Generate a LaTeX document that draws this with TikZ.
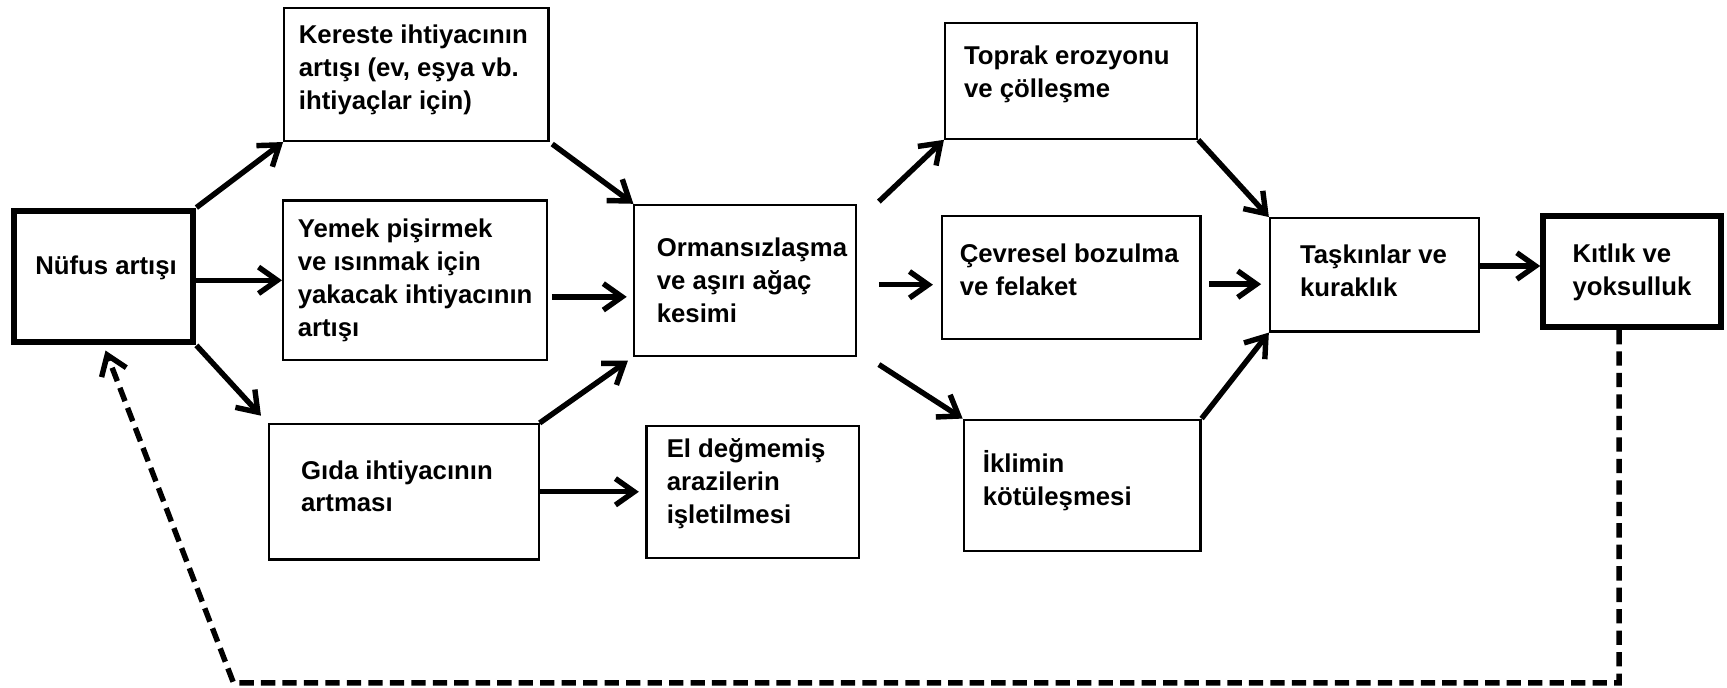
\documentclass[tikz,border=0pt]{standalone}
\usepackage{fontspec}
\setmainfont{Liberation Sans}
\usetikzlibrary{arrows.meta,calc}

\tikzset{
  box/.style={draw, line width=1.1pt, inner sep=0pt},
  keybox/.style={draw, line width=3.2pt, inner sep=0pt},
  lbl/.style={anchor=west, align=left, inner sep=0pt, font=\bfseries\fontsize{13.3}{17}\selectfont},
  arr/.style={-{Straight Barb[length=3.4mm,width=4.8mm]}, line width=2.8pt},
  fb/.style={arr, dash pattern=on 2.6mm off 1.3mm},
}

\begin{document}
\begin{tikzpicture}[x=0.2mm, y=-0.2mm]
      \useasboundingbox (0,0) rectangle (1568,624);

      \node[keybox, minimum width=32.6mm, minimum height=23.9mm] (nufus) at (94,251) {};
      \node[box, minimum width=48mm, minimum height=24.2mm] (kereste) at (378,67.5) {};
      \node[box, minimum width=48mm, minimum height=29mm] (yemek) at (377,254.5) {};
      \node[box, minimum width=49mm, minimum height=24.6mm] (gida) at (366.5,446.5) {};
      \node[box, minimum width=40.2mm, minimum height=27.4mm] (orman) at (676.5,254.5) {};
      \node[box, minimum width=38.6mm, minimum height=24mm] (el) at (683.5,447) {};
      \node[box, minimum width=45.8mm, minimum height=21mm] (toprak) at (972.5,73.5) {};
      \node[box, minimum width=47mm, minimum height=22.4mm] (cevre) at (972.5,252) {};
      \node[box, minimum width=43mm, minimum height=23.8mm] (iklim) at (982.5,440.5) {};
      \node[box, minimum width=38mm, minimum height=20.6mm] (taskin) at (1248,249.5) {};
      \node[keybox, minimum width=32.3mm, minimum height=20.1mm] (kitlik) at (1482,246.5) {};

      \node[lbl] (nufusT) at ($(nufus.west)+(22,-8)$) {Nüfus artışı};
      \node[lbl] (keresteT) at ($(kereste.west)+(14,-4)$) {Kereste ihtiyacının\\artışı (ev, eşya vb.\\ihtiyaçlar için)};
      \node[lbl] (yemekT) at ($(yemek.west)+(14,0)$) {Yemek pişirmek\\ve ısınmak için\\yakacak ihtiyacının\\artışı};
      \node[lbl] (gidaT) at ($(gida.west)+(30,-5)$) {Gıda ihtiyacının\\artması};
      \node[lbl] (ormanT) at ($(orman.west)+(21,0)$) {Ormansızlaşma\\ve aşırı ağaç\\kesimi};
      \node[lbl] (elT) at ($(el.west)+(19,-8)$) {El değmemiş\\arazilerin\\işletilmesi};
      \node[lbl] (toprakT) at ($(toprak.west)+(18,-6)$) {Toprak erozyonu\\ve çölleşme};
      \node[lbl] (cevreT) at ($(cevre.west)+(17,-7)$) {Çevresel bozulma\\ve felaket};
      \node[lbl] (iklimT) at ($(iklim.west)+(18,-4)$) {İklimin\\kötüleşmesi};
      \node[lbl] (taskinT) at ($(taskin.west)+(28,-4)$) {Taşkınlar ve\\kuraklık};
      \node[lbl] (kitlikT) at ($(kitlik.west)+(29,1)$) {Kıtlık ve\\yoksulluk};

      \draw[arr] (nufus.north east) -- (kereste.south west);
      \draw[arr] (nufus.east |- yemek.west) -- (yemek.west);
      \draw[arr, shorten >=1.8mm] (nufus.south east) -- (gida.north west);
      \draw[arr, shorten <=0.6mm] (kereste.south east) -- (orman.north west);
      \draw[arr, shorten >=1.2mm] ([shift={(3,15)}]yemek.east) coordinate (y1) -- (y1 -| orman.west);
      \draw[arr, shorten >=1.2mm] (gida.north east) -- (orman.south west);
      \draw[arr, shorten >=1.2mm] (gida.east) -- (gida.east -| el.west);
      \draw[arr] ([shift={(20,-2)}]orman.north east) -- (toprak.south west);
      \draw[arr, shorten >=1.4mm] ([shift={(20,4)}]orman.east) coordinate (o1) -- (o1 -| cevre.west);
      \draw[arr] ([shift={(20,7)}]orman.south east) -- (iklim.north west);
      \draw[arr] (toprak.south east) -- (taskin.north west);
      \draw[arr, shorten >=1.4mm] ([shift={(7,6)}]cevre.east) coordinate (c1) -- (c1 -| taskin.west);
      \draw[arr] (iklim.north east) -- (taskin.south west);
      \draw[arr] ([yshift=1.6mm]taskin.east) coordinate (t1) -- (t1 -| kitlik.west);

      \coordinate (fbR) at (1470,620);
      \coordinate (fbL) at (212,620);
      \draw[fb, shorten >=1mm] (kitlik.south -| fbR) -- (fbR) -- (fbL) -- (nufus.south);
\end{tikzpicture}
\end{document}
